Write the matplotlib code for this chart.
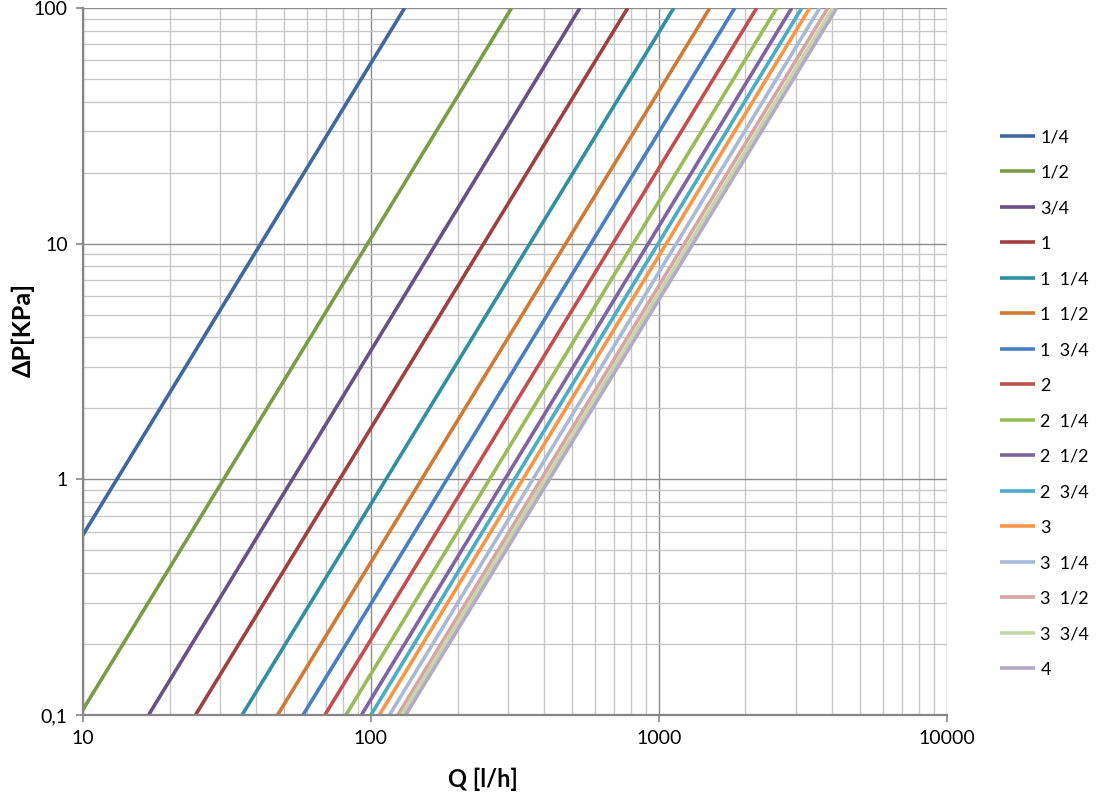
import matplotlib
matplotlib.use("Agg")
import matplotlib.pyplot as plt
from matplotlib.ticker import FixedLocator, FixedFormatter, NullFormatter, LogLocator

# Pipe sizes (inches) and the flow read at the bottom (0,1 kPa) and top (100 kPa) of the chart
sizes = ["1/4", "1/2", "3/4", "1", "1  1/4", "1  1/2", "1  3/4", "2", "2  1/4",
         "2  1/2", "2  3/4", "3", "3  1/4", "3  1/2", "3  3/4", "4"]
q_low = [4.15, 9.74, 16.9, 24.6, 35.7, 47.4, 58.1, 69.2, 81.9,
         92.7, 100.0, 107.0, 116.0, 124.0, 128.0, 132.0]
q_high = [131.0, 308.0, 532.0, 780.0, 1127.0, 1503.0, 1836.0, 2188.0, 2569.0,
          2896.0, 3137.0, 3344.0, 3622.0, 3863.0, 4020.0, 4150.0]
dp_ends = [0.1, 100.0]

colors = ["#3F67A0", "#7B9C46", "#6A5089", "#A0403E", "#318EA3", "#D07A35",
          "#4A7EC4", "#C24F4C", "#9BBB59", "#8064A2", "#4BACC6", "#F79646",
          "#A9B9DA", "#D9A5A4", "#C5D8A7", "#B5A9C9"]

x_ticks = [10, 100, 1000, 10000]
x_labels = ["10", "100", "1000", "10000"]
y_ticks = [0.1, 1, 10, 100]
y_labels = ["0,1", "1", "10", "100"]

plt.rcParams["font.family"] = ["Lato", "DejaVu Sans"]

fig = plt.figure(figsize=(11.06, 7.98), dpi=100)
ax = fig.add_axes([0.075, 0.104, 0.781, 0.886])

for name, lo, hi, c in zip(sizes, q_low, q_high, colors):
    ax.plot([lo, hi], dp_ends, color=c, lw=2.6, label=name, solid_capstyle="butt")

ax.set_xscale("log")
ax.set_yscale("log")
ax.set_xlim(10, 10000)
ax.set_ylim(0.1, 100)

ax.xaxis.set_major_locator(FixedLocator(x_ticks))
ax.xaxis.set_major_formatter(FixedFormatter(x_labels))
ax.yaxis.set_major_locator(FixedLocator(y_ticks))
ax.yaxis.set_major_formatter(FixedFormatter(y_labels))
ax.xaxis.set_minor_locator(LogLocator(base=10, subs=range(2, 10)))
ax.yaxis.set_minor_locator(LogLocator(base=10, subs=range(2, 10)))
ax.xaxis.set_minor_formatter(NullFormatter())
ax.yaxis.set_minor_formatter(NullFormatter())

ax.grid(True, which="major", color="#8C8C8C", lw=1.0)
ax.grid(True, which="minor", color="#C8C8C8", lw=1.0)
ax.set_axisbelow(True)

ax.tick_params(which="major", length=5, width=1.2, color="#868686",
               labelsize=14, pad=6)
ax.tick_params(which="minor", length=0)
for side in ["left", "bottom"]:
    ax.spines[side].set_color("#868686")
    ax.spines[side].set_linewidth(1.6)
for side in ["top", "right"]:
    ax.spines[side].set_visible(False)

fig.text(0.437, 0.024, "Q [l/h]", ha="center", va="center",
         fontsize=17, fontweight="bold")
fig.text(0.021, 0.586, "ΔP[KPa]", ha="center", va="center", rotation=90,
         fontsize=18, fontweight="bold")

ax.legend(loc="upper left", bbox_to_anchor=(1.0535, 0.839), frameon=False,
          fontsize=13, handlelength=1.94, handletextpad=0.28,
          labelspacing=1.08, borderaxespad=0)

fig.savefig("out.png", dpi=100)
